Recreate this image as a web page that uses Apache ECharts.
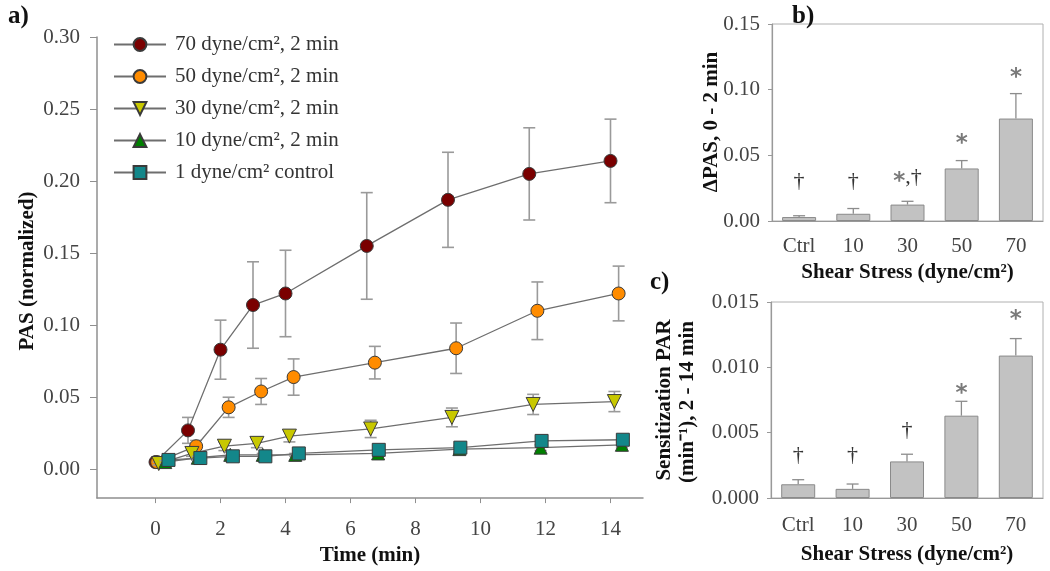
<!DOCTYPE html>
<html>
<head>
<meta charset="utf-8">
<script src="https://cdn.jsdelivr.net/npm/echarts@6/dist/echarts.min.js"></script>
<style>
html,body{margin:0;padding:0;background:#fff;}
#chart{width:1050px;height:571px;}
</style>
</head>
<body>
<div id="chart"></div>
<script>
// ---------- Panel a data ----------
const seriesNames = ['70 dyne/cm², 2 min','50 dyne/cm², 2 min','30 dyne/cm², 2 min','10 dyne/cm², 2 min','1 dyne/cm² control'];
const t70 = [0, 1.0, 2.0, 3.0, 4.0, 6.5, 9.0, 11.5, 14.0];
const pas70 = [0.005, 0.027, 0.083, 0.114, 0.122, 0.155, 0.187, 0.205, 0.214];
const err70 = [0.001, 0.009, 0.0205, 0.030, 0.030, 0.037, 0.033, 0.032, 0.029];
const t50 = [0.05, 1.25, 2.25, 3.25, 4.25, 6.75, 9.25, 11.75, 14.25];
const pas50 = [0.005, 0.016, 0.043, 0.054, 0.064, 0.074, 0.084, 0.110, 0.122];
const err50 = [0.001, 0.004, 0.007, 0.009, 0.0126, 0.0113, 0.0175, 0.020, 0.019];
const t30 = [0.1, 1.12, 2.12, 3.12, 4.12, 6.62, 9.12, 11.62, 14.12];
const pas30 = [0.004, 0.011, 0.016, 0.018, 0.023, 0.028, 0.036, 0.045, 0.047];
const err30 = [0.001, 0.002, 0.003, 0.003, 0.004, 0.006, 0.0065, 0.007, 0.007];
const t10 = [0.3, 1.3, 2.3, 3.3, 4.3, 6.85, 9.35, 11.85, 14.35];
const pas10 = [0.005, 0.008, 0.010, 0.010, 0.010, 0.011, 0.014, 0.015, 0.017];
const err10 = [0.001, 0.001, 0.002, 0.001, 0.001, 0.002, 0.002, 0.002, 0.002];
const tCtrl = [0.4, 1.38, 2.38, 3.38, 4.41, 6.87, 9.38, 11.88, 14.38];
const pasCtrl = [0.0065, 0.0078, 0.009, 0.009, 0.011, 0.0135, 0.015, 0.0197, 0.0205];
const errCtrl = [0.001, 0.001, 0.001, 0.001, 0.001, 0.002, 0.002, 0.002, 0.002];
const timeTicks = [0, 2, 4, 6, 8, 10, 12, 14];
const pasTicks = [0, 0.05, 0.10, 0.15, 0.20, 0.25, 0.30];

// ---------- Panels b, c data ----------
const shearCats = ['Ctrl', '10', '30', '50', '70'];
const dPAS = [0.003, 0.0055, 0.0125, 0.040, 0.078];
const dPASErr = [0.001, 0.004, 0.0025, 0.006, 0.019];
const dPASMarks = ['†', '†', '*,†', '*', '*'];
const dPASMarkY = [0.030, 0.030, 0.033, 0.062, 0.112];
const sensPAR = [0.00105, 0.0007, 0.0028, 0.0063, 0.0109];
const sensErr = [0.00035, 0.00037, 0.00055, 0.0011, 0.0013];
const sensMarks = ['†', '†', '†', '*', '*'];
const sensMarkY = [0.0033, 0.0033, 0.0052, 0.0083, 0.0139];

const SERIF = "'Liberation Serif', 'DejaVu Serif', serif";
const colors = ['#7a0000', '#ff8c00', '#c8c800', '#008000', '#13878a'];
const symbols = ['circle', 'circle', 'triangle', 'triangle', 'rect'];
const rotations = [0, 0, 180, 0, 0];
const sizes = [13, 13, 14, 13, 13];
const groups = [[t70, pas70, err70], [t50, pas50, err50], [t30, pas30, err30], [t10, pas10, err10], [tCtrl, pasCtrl, errCtrl]];

function errBarRender(params, api) {
  const x = api.value(0), lo = api.value(1), hi = api.value(2);
  const a = api.coord([x, hi]), b = api.coord([x, lo]);
  const w = 6;
  const st = {stroke: '#9a9a9a', lineWidth: 1.6};
  return {type: 'group', children: [
    {type: 'line', shape: {x1: a[0], y1: a[1], x2: b[0], y2: b[1]}, style: st},
    {type: 'line', shape: {x1: a[0] - w, y1: a[1], x2: a[0] + w, y2: a[1]}, style: st},
    {type: 'line', shape: {x1: b[0] - w, y1: b[1], x2: b[0] + w, y2: b[1]}, style: st}
  ]};
}
function upErrRender(params, api) {
  const x = api.value(0), lo = api.value(1), hi = api.value(2);
  const a = api.coord([x, hi]), b = api.coord([x, lo]);
  const w = 6;
  const st = {stroke: '#8c8c8c', lineWidth: 1.3};
  return {type: 'group', children: [
    {type: 'line', shape: {x1: a[0], y1: a[1], x2: b[0], y2: b[1]}, style: st},
    {type: 'line', shape: {x1: a[0] - w, y1: a[1], x2: a[0] + w, y2: a[1]}, style: st}
  ]};
}
function markRender(params, api) {
  const p = api.coord([api.value(0), api.value(1)]);
  const txt = api.value(2);
  let rtxt = '';
  for (const ch of txt) {
    if (ch === '*') rtxt += '{a|*}';
    else if (ch === '†') rtxt += '{d|†}';
    else rtxt += '{c|' + ch + '}';
  }
  return {type: 'text', x: p[0], y: p[1], style: {
    text: rtxt, align: 'center', verticalAlign: 'middle',
    rich: {
      a: {fontFamily: "'DejaVu Sans'", fontWeight: 'bold', fontSize: 23, fill: '#7a7a7a', padding: [8, 0, 0, 0]},
      d: {fontFamily: SERIF, fontSize: 22, fill: '#333'},
      c: {fontFamily: SERIF, fontSize: 22, fill: '#333'}
    }
  }};
}

const series = [];
groups.forEach((g, i) => {
  series.push({
    type: 'custom', xAxisIndex: 0, yAxisIndex: 0, z: 2 + i * 2,
    renderItem: errBarRender, encode: {x: 0, y: [1, 2]},
    data: g[0].map((t, k) => [t, g[1][k] - g[2][k], g[1][k] + g[2][k]]),
    silent: true
  });
  series.push({
    name: seriesNames[i], type: 'line', xAxisIndex: 0, yAxisIndex: 0, z: 3 + i * 2,
    data: g[0].map((t, k) => [t, g[1][k]]),
    symbol: symbols[i], symbolSize: sizes[i], symbolRotate: rotations[i],
    lineStyle: {color: '#6e6e6e', width: 1.3},
    itemStyle: {color: colors[i], borderColor: '#3a3a3a', borderWidth: 1},
    emphasis: {disabled: true}
  });
});
// bars b
series.push({type: 'bar', xAxisIndex: 1, yAxisIndex: 1, data: dPAS, barWidth: 34,
  itemStyle: {color: '#c2c2c2', borderColor: '#8a8a8a', borderWidth: 1}, z: 2});
series.push({type: 'custom', xAxisIndex: 1, yAxisIndex: 1, renderItem: upErrRender, encode: {x: 0, y: [1, 2]},
  data: dPAS.map((v, k) => [k, v, v + dPASErr[k]]), z: 1});
series.push({type: 'custom', xAxisIndex: 1, yAxisIndex: 1, renderItem: markRender, encode: {x: 0, y: 1},
  data: dPASMarks.map((m, k) => [k, dPASMarkY[k], m]), z: 3});
// bars c
series.push({type: 'bar', xAxisIndex: 2, yAxisIndex: 2, data: sensPAR, barWidth: 34,
  itemStyle: {color: '#c2c2c2', borderColor: '#8a8a8a', borderWidth: 1}, z: 2});
series.push({type: 'custom', xAxisIndex: 2, yAxisIndex: 2, renderItem: upErrRender, encode: {x: 0, y: [1, 2]},
  data: sensPAR.map((v, k) => [k, v, v + sensErr[k]]), z: 1});
series.push({type: 'custom', xAxisIndex: 2, yAxisIndex: 2, renderItem: markRender, encode: {x: 0, y: 1},
  data: sensMarks.map((m, k) => [k, sensMarkY[k], m]), z: 3});

const tickLbl = {fontFamily: SERIF, fontSize: 21, color: '#444'};
const axisGrey = {onZero: false, lineStyle: {color: '#8f8f8f', width: 1.5}};
const nameStyle = {fontFamily: SERIF, fontSize: 21, fontWeight: 'bold', color: '#111'};

const option = {
  animation: false,
  backgroundColor: '#fff',
  grid: [
    {left: 97, top: 37, width: 546, height: 465},
    {left: 772, top: 24, width: 271, height: 197, show: true, borderColor: '#b0b0b0', borderWidth: 1},
    {left: 771, top: 302, width: 272, height: 196, show: true, borderColor: '#b0b0b0', borderWidth: 1}
  ],
  xAxis: [
    {type: 'value', gridIndex: 0, min: -1.8, max: 15, splitLine: {show: false},
     axisLine: axisGrey, axisTick: {customValues: timeTicks, length: 5, lineStyle: {color: '#8f8f8f'}},
     axisLabel: Object.assign({customValues: timeTicks, margin: 21}, tickLbl),
     name: 'Time (min)', nameLocation: 'middle', nameGap: 43, nameTextStyle: nameStyle},
    {type: 'category', gridIndex: 1, data: shearCats, axisLine: {lineStyle: {color: '#999', width: 1.2}},
     axisTick: {alignWithLabel: true, length: 4, lineStyle: {color: '#999'}},
     axisLabel: Object.assign({margin: 15}, tickLbl),
     name: 'Shear Stress (dyne/cm²)', nameLocation: 'middle', nameGap: 41, nameTextStyle: nameStyle},
    {type: 'category', gridIndex: 2, data: shearCats, axisLine: {lineStyle: {color: '#999', width: 1.2}},
     axisTick: {alignWithLabel: true, length: 4, lineStyle: {color: '#999'}},
     axisLabel: Object.assign({margin: 17}, tickLbl),
     name: 'Shear Stress (dyne/cm²)', nameLocation: 'middle', nameGap: 46, nameTextStyle: nameStyle}
  ],
  yAxis: [
    {type: 'value', gridIndex: 0, min: -0.02, max: 0.30, splitLine: {show: false},
     axisLine: Object.assign({show: true}, axisGrey),
     axisTick: {show: true, customValues: pasTicks, length: 7, lineStyle: {color: '#8f8f8f'}},
     axisLabel: Object.assign({customValues: pasTicks, margin: 17, formatter: v => v.toFixed(2)}, tickLbl)},
    {type: 'value', gridIndex: 1, min: 0, max: 0.15, interval: 0.05, splitLine: {show: false},
     axisLine: {show: true, lineStyle: {color: '#999', width: 1.2}},
     axisTick: {show: true, length: 4, lineStyle: {color: '#999'}},
     axisLabel: Object.assign({margin: 12, formatter: v => v.toFixed(2)}, tickLbl)},
    {type: 'value', gridIndex: 2, min: 0, max: 0.015, interval: 0.005, splitLine: {show: false},
     axisLine: {show: true, lineStyle: {color: '#999', width: 1.2}},
     axisTick: {show: true, length: 4, lineStyle: {color: '#999'}},
     axisLabel: Object.assign({margin: 12, formatter: v => v.toFixed(3)}, tickLbl)}
  ],
  legend: {
    data: seriesNames, orient: 'vertical', left: 108, top: 29,
    itemWidth: 52, itemHeight: 16, itemGap: 11,
    textStyle: {fontFamily: SERIF, fontSize: 21, color: '#333', lineHeight: 20, padding: [0, 0, 0, 4]},
    selectedMode: false
  },
  graphic: [
    {type: 'text', left: 8, top: 4, style: {text: 'a)', font: "bold 25px 'Liberation Serif'", fill: '#111'}},
    {type: 'text', left: 792, top: 4, style: {text: 'b)', font: "bold 25px 'Liberation Serif'", fill: '#111'}},
    {type: 'text', left: 650, top: 270, style: {text: 'c)', font: "bold 25px 'Liberation Serif'", fill: '#111'}},
    {type: 'text', x: 28, y: 271, rotation: Math.PI / 2,
     style: {text: 'PAS (normalized)', font: "bold 21px 'Liberation Serif'", fill: '#111', align: 'center', verticalAlign: 'middle'}},
    {type: 'text', x: 712, y: 122, rotation: Math.PI / 2,
     style: {text: 'ΔPAS, 0 - 2 min', font: "bold 21px 'Liberation Serif'", fill: '#111', align: 'center', verticalAlign: 'middle'}},
    {type: 'text', x: 665, y: 400, rotation: Math.PI / 2,
     style: {text: 'Sensitization PAR', font: "bold 21px 'Liberation Serif'", fill: '#111', align: 'center', verticalAlign: 'middle'}},
    {type: 'text', x: 688, y: 402, rotation: Math.PI / 2,
     style: {text: '(min⁻¹), 2 - 14 min', font: "bold 21px 'Liberation Serif'", fill: '#111', align: 'center', verticalAlign: 'middle'}}
  ],
  series: series
};
const chart = echarts.init(document.getElementById('chart'), null, {renderer: 'canvas'});
chart.setOption(option);
</script>
</body>
</html>
